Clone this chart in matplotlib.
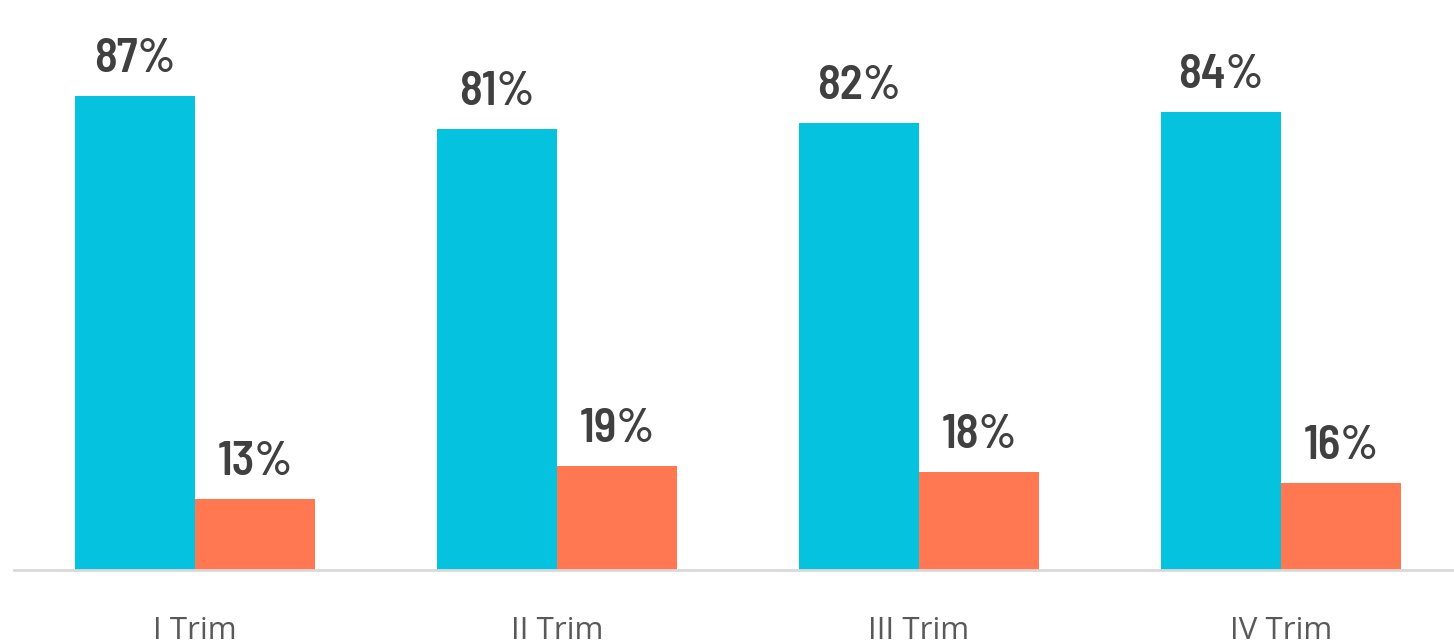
import matplotlib
matplotlib.use("Agg")
import matplotlib.pyplot as plt
import numpy as np

# data
quarters = ["I Trim", "II Trim", "III Trim", "IV Trim"]
serie_a = [87, 81, 82, 84]   # cyan bars
serie_b = [13, 19, 18, 16]   # orange bars

cyan = "#05C3DE"
orange = "#FF7852"

fig = plt.figure(figsize=(14.54, 6.44), dpi=100)
# axes box placed so the categories line up with the reference
ax = fig.add_axes([14/1454, 74/644, 1448/1454, 570/644])

x = np.arange(len(quarters))
w = 0.3315
bars_a = ax.bar(x - w/2, serie_a, w, color=cyan, linewidth=0)
bars_b = ax.bar(x + w/2, serie_b, w, color=orange, linewidth=0)

lab_font = dict(family=["Barlow Semi Condensed", "DejaVu Sans"], fontsize=34,
                fontweight=600, color="#404040", ha="center", va="baseline")
for bars, vals in ((bars_a, serie_a), (bars_b, serie_b)):
    for b, v in zip(bars, vals):
        ax.text(b.get_x() + b.get_width()/2, v + 4.4, f"{v}%", **lab_font)

ax.set_xlim(-0.5, 3.5)
ax.set_ylim(0, 104.6)
ax.set_yticks([])
ax.set_xticks(x)
ax.set_xticklabels(quarters, fontsize=22.5, color="#595959", family="Open Sans")
ax.tick_params(axis="x", length=0, pad=33)
for s in ("top", "right", "left"):
    ax.spines[s].set_visible(False)
ax.spines["bottom"].set_color("#D9D9D9")
ax.spines["bottom"].set_linewidth(2)

fig.savefig("out.png", dpi=100)
